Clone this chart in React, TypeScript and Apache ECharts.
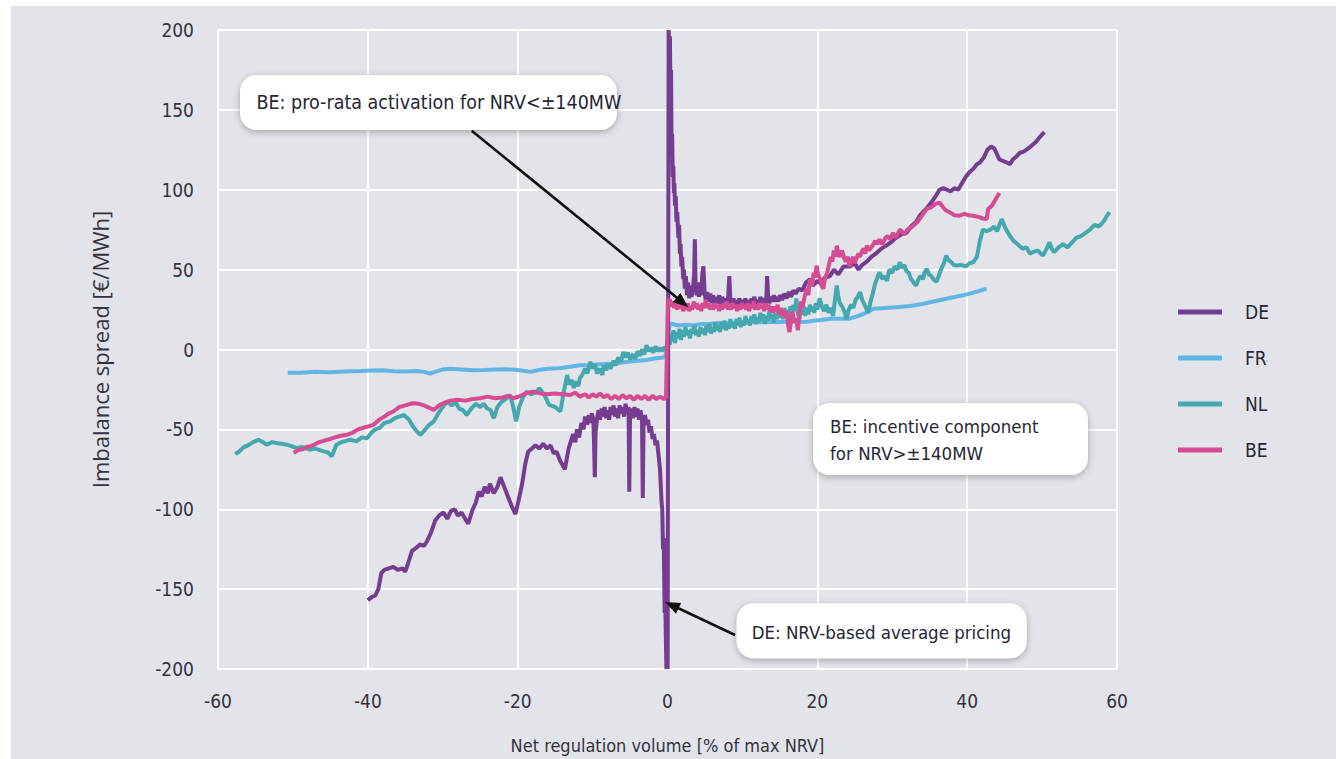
import React, { useEffect, useRef } from "react";
import * as echarts from "echarts";

// ---------- data (x: net regulation volume [% of max NRV], y: imbalance spread [€/MWh]) ----------
const seriesNames = ["DE", "FR", "NL", "BE"];
const xTicks = { min: -60, max: 60, interval: 20 };
const yTicks = { min: -200, max: 200, interval: 50 };

const deData: number[][] = [
  [-40.0, -157], [-39.5, -155], [-39.0, -154], [-38.6, -150], [-38.2, -140], [-37.8, -138], [-37.2, -137],
  [-36.6, -136], [-36.0, -138], [-35.4, -137], [-35.0, -139], [-34.5, -132], [-34.1, -126], [-33.5, -124],
  [-33.0, -122], [-32.5, -123], [-32.1, -120], [-31.6, -115], [-31.0, -107], [-30.5, -104], [-29.9, -102],
  [-29.4, -106], [-28.9, -101], [-28.4, -100], [-28.0, -104], [-27.5, -102], [-27.0, -106], [-26.6, -109],
  [-26.0, -100], [-25.6, -96], [-25.2, -89], [-24.8, -92], [-24.4, -86], [-24.0, -90], [-23.7, -84],
  [-23.2, -90], [-22.7, -86], [-22.3, -80], [-21.8, -86], [-21.3, -92], [-20.8, -98], [-20.3, -103],
  [-19.9, -95], [-19.4, -84], [-19.0, -72], [-18.6, -64], [-18.1, -62], [-17.6, -60], [-17.1, -62],
  [-16.6, -59], [-16.1, -62], [-15.6, -60], [-15.2, -65], [-14.8, -64], [-14.3, -70], [-13.7, -75],
  [-13.2, -62], [-12.6, -53], [-12.3, -58], [-12.1, -50], [-11.8, -55], [-11.5, -46], [-11.2, -50],
  [-11.0, -42], [-10.7, -47], [-10.5, -41], [-10.3, -46], [-10.1, -40], [-9.9, -44], [-9.8, -60],
  [-9.7, -80], [-9.6, -52], [-9.4, -43], [-9.2, -38], [-9.0, -44], [-8.8, -37], [-8.6, -42], [-8.4, -36],
  [-8.2, -43], [-8.0, -38], [-7.8, -44], [-7.6, -36], [-7.4, -41], [-7.2, -35], [-7.0, -42], [-6.8, -37],
  [-6.6, -43], [-6.4, -35], [-6.2, -40], [-6.0, -36], [-5.8, -42], [-5.6, -34], [-5.4, -40], [-5.2, -36],
  [-5.1, -89], [-5.0, -42], [-4.8, -37], [-4.6, -43], [-4.4, -36], [-4.2, -42], [-4.0, -37], [-3.8, -44],
  [-3.6, -38], [-3.4, -45], [-3.3, -93], [-3.2, -48], [-3.0, -41], [-2.8, -47], [-2.6, -44], [-2.4, -52],
  [-2.2, -48], [-2.0, -56], [-1.8, -53], [-1.6, -60], [-1.4, -57], [-1.2, -66], [-1.0, -75], [-0.9, -85],
  [-0.8, -95], [-0.7, -100], [-0.6, -125], [-0.5, -118], [-0.45, -140], [-0.38, -165], [-0.3, -158],
  [-0.22, -180], [-0.15, -200], [-0.08, -190], [0.02, -200], [0.15, 200], [0.25, 190], [0.32, 196],
  [0.4, 160], [0.47, 175], [0.55, 125], [0.62, 135], [0.7, 108], [0.78, 115], [0.85, 98], [0.92, 104],
  [1.0, 90], [1.1, 96], [1.2, 80], [1.3, 86], [1.45, 70], [1.55, 78], [1.65, 60], [1.75, 66], [1.85, 52],
  [1.95, 58], [2.1, 44], [2.2, 50], [2.3, 38], [2.45, 46], [2.6, 34], [2.75, 42], [2.9, 32], [3.05, 40],
  [3.2, 33], [3.4, 38], [3.55, 47], [3.65, 69], [3.75, 40], [3.9, 34], [4.05, 42], [4.2, 33], [4.35, 40],
  [4.5, 34], [4.65, 48], [4.8, 52], [4.95, 36], [5.1, 31], [5.3, 36], [5.5, 30], [5.7, 35], [5.9, 29],
  [6.1, 34], [6.3, 28], [6.5, 33], [6.7, 29], [6.9, 34], [7.1, 28], [7.3, 33], [7.5, 29], [7.7, 32],
  [7.9, 28], [8.1, 33], [8.25, 46], [8.4, 31], [8.6, 27], [8.8, 32], [9.0, 28], [9.2, 31], [9.4, 27],
  [9.6, 32], [9.8, 28], [10.0, 31], [10.2, 27], [10.4, 32], [10.6, 28], [10.8, 31], [11.0, 27], [11.2, 32],
  [11.4, 29], [11.6, 33], [11.8, 28], [12.0, 31], [12.2, 28], [12.4, 33], [12.6, 29], [12.8, 32],
  [13.0, 29], [13.2, 33], [13.3, 46], [13.45, 31], [13.6, 29], [13.8, 33], [14.0, 30], [14.2, 34],
  [14.4, 30], [14.6, 33], [14.8, 30], [15.0, 34], [15.3, 31], [15.6, 35], [15.9, 32], [16.2, 36],
  [16.5, 33], [16.8, 37], [17.1, 35], [17.5, 38], [18.0, 37], [18.5, 42], [19.0, 44], [19.4, 40],
  [20.0, 43], [20.5, 41], [21.0, 45], [21.7, 46], [22.2, 50], [22.8, 47], [23.5, 52], [24.3, 52],
  [25.0, 54], [25.5, 50], [26.0, 53], [26.6, 55], [27.2, 58], [27.8, 60], [28.5, 63], [29.2, 65],
  [29.8, 67], [30.5, 70], [31.2, 72], [31.9, 73], [32.5, 77], [33.2, 80], [33.7, 84], [34.1, 86],
  [34.7, 89], [35.2, 92], [35.8, 96], [36.3, 100], [36.8, 101], [37.3, 100], [37.8, 99], [38.3, 101],
  [38.8, 100], [39.3, 104], [39.8, 108], [40.3, 111], [40.8, 113], [41.3, 116], [41.7, 117], [42.2, 120],
  [42.7, 125], [43.2, 127], [43.6, 126], [43.9, 123], [44.3, 119], [44.8, 118], [45.3, 117], [45.7, 116],
  [46.1, 119], [46.6, 121], [47.0, 123], [47.6, 124], [48.2, 126], [48.7, 128], [49.2, 130], [49.7, 133],
  [50.3, 136],
];

const frData: number[][] = [
  [-50.7, -14.5], [-49.0, -14.5], [-47.0, -14.0], [-45.0, -14.3], [-43.0, -13.8], [-41.0, -13.5],
  [-39.5, -13.2], [-38.0, -13.0], [-36.5, -13.6], [-35.0, -13.8], [-33.5, -13.5], [-32.5, -14.0],
  [-31.7, -15.0], [-31.0, -14.0], [-30.0, -12.5], [-29.0, -12.0], [-27.5, -12.5], [-26.0, -13.0],
  [-24.5, -12.8], [-23.0, -12.5], [-21.5, -12.3], [-20.0, -12.8], [-19.0, -13.5], [-18.3, -14.0],
  [-17.2, -12.8], [-16.0, -12.0], [-14.5, -11.8], [-13.0, -10.8], [-11.7, -9.8], [-10.3, -9.7],
  [-9.0, -9.2], [-7.2, -8.9], [-5.5, -7.8], [-4.0, -7.0], [-2.8, -6.6], [-1.5, -5.5], [-0.3, -4.8],
  [0.3, 16], [0.6, 16], [1.5, 15], [2.5, 15.5], [3.5, 15], [4.5, 16], [5.5, 16], [6.5, 16.5], [7.5, 16.8],
  [8.5, 16.5], [9.5, 17], [10.5, 16.8], [11.5, 17.2], [12.5, 17], [13.5, 17.3], [14.5, 17], [15.5, 17.4],
  [16.5, 17.4], [17.5, 17.2], [18.6, 17.4], [19.5, 18], [20.5, 18.5], [21.7, 19.3], [23.0, 19.2],
  [24.3, 19.3], [25.5, 21], [26.5, 23], [27.5, 25.5], [29.0, 26], [30.5, 26.5], [32.0, 27], [32.8, 27.6],
  [34.0, 28.5], [35.5, 30], [37.2, 31.8], [38.5, 33], [40.0, 34.5], [41.5, 36.5], [42.6, 38],
];

const nlData: number[][] = [
  [-57.7, -65.4], [-57.2, -64], [-56.6, -61.3], [-56.0, -60], [-55.3, -58], [-54.6, -56.5], [-54.0, -58],
  [-53.5, -59.6], [-52.8, -58], [-52.2, -58.5], [-51.5, -59], [-50.8, -59.6], [-50.2, -60.5],
  [-49.5, -61.7], [-48.8, -61], [-48.2, -62], [-47.7, -62.7], [-47.0, -62], [-46.4, -63], [-45.9, -63.8],
  [-45.3, -64.5], [-44.8, -66.9], [-44.4, -62], [-44.2, -59.6], [-43.5, -58], [-42.8, -57], [-42.3, -56.5],
  [-41.5, -57.5], [-40.8, -55], [-40.1, -55.5], [-39.5, -52], [-39.0, -50], [-38.4, -49], [-37.8, -46],
  [-37.0, -45], [-36.4, -43], [-35.8, -42], [-35.2, -41], [-34.5, -44], [-34.0, -48], [-33.5, -51],
  [-33.0, -53.4], [-32.5, -51], [-32.0, -48], [-31.2, -45], [-30.6, -40], [-30.0, -36], [-29.4, -32.6],
  [-28.8, -35], [-28.3, -33], [-27.8, -37], [-27.3, -38], [-26.8, -41], [-26.2, -37], [-25.6, -34],
  [-25.0, -36], [-24.5, -34], [-24.1, -36.8], [-23.6, -38], [-23.2, -43], [-22.7, -36], [-22.2, -33],
  [-21.6, -31], [-21.0, -28.5], [-20.6, -36], [-20.2, -45], [-19.8, -36], [-19.3, -30], [-18.8, -26.4],
  [-18.2, -28], [-17.6, -27], [-17.1, -24.3], [-16.5, -28], [-15.8, -34.7], [-15.0, -36], [-14.3, -38.8],
  [-13.9, -28], [-13.4, -16], [-13.1, -22], [-12.8, -19], [-12.5, -24], [-12.2, -20], [-11.9, -23],
  [-11.7, -18], [-11.4, -16], [-11.0, -12], [-10.7, -15], [-10.3, -7.7], [-10.0, -12], [-9.7, -9],
  [-9.4, -15], [-9.0, -12], [-8.7, -16], [-8.5, -10], [-8.2, -13], [-8.0, -9], [-7.6, -12], [-7.2, -7],
  [-6.9, -10], [-6.6, -5], [-6.2, -8], [-5.9, -1.5], [-5.6, -5], [-5.3, -2], [-5.0, -6], [-4.6, -3],
  [-4.3, -6], [-4.0, -1], [-3.7, -4], [-3.4, 0], [-3.1, -3], [-2.8, 2.7], [-2.5, -1], [-2.2, 1],
  [-1.9, -2], [-1.6, 2], [-1.3, -1], [-1.0, 1], [-0.7, -1], [-0.4, 1.5], [-0.1, 0],
  [0.0, 1], [0.15, 8], [0.3, 3], [0.45, 10], [0.6, 5], [0.8, 12], [1.0, 4], [1.2, 11], [1.4, 7], [1.6, 13],
  [1.8, 6], [2.0, 12], [2.2, 8], [2.4, 14], [2.6, 9], [2.8, 12], [3.0, 7], [3.2, 13], [3.4, 10], [3.6, 15],
  [3.8, 9], [4.0, 12], [4.2, 8], [4.4, 14], [4.6, 10], [4.8, 13], [5.0, 9], [5.2, 15], [5.4, 11], [5.6, 16],
  [5.8, 10], [6.0, 14], [6.2, 11], [6.4, 17], [6.6, 12], [6.8, 15], [7.0, 11], [7.2, 17], [7.4, 13],
  [7.6, 18], [7.8, 12], [8.0, 16], [8.2, 13], [8.4, 19], [8.6, 14], [8.8, 17], [9.0, 13], [9.2, 19],
  [9.4, 15], [9.6, 20], [9.8, 14], [10.0, 18], [10.2, 15], [10.4, 21], [10.6, 16], [10.8, 19], [11.0, 15],
  [11.2, 21], [11.4, 17], [11.6, 22], [11.8, 16], [12.0, 20], [12.2, 17], [12.4, 23], [12.6, 18],
  [12.8, 22], [13.0, 16], [13.2, 21], [13.4, 18], [13.6, 24], [13.8, 19], [14.0, 22], [14.2, 17],
  [14.4, 23], [14.6, 19], [14.8, 25], [15.0, 20], [15.2, 24], [15.4, 19], [15.6, 26], [15.8, 21],
  [16.0, 25], [16.2, 20], [16.4, 27], [16.6, 22], [16.8, 28], [17.0, 24], [17.2, 32], [17.4, 23],
  [17.6, 19], [17.8, 25], [18.0, 22], [18.2, 27], [18.4, 21], [18.6, 26], [18.8, 22], [19.0, 28],
  [19.2, 24], [19.4, 27], [19.6, 23], [19.8, 29], [20.0, 25], [20.3, 32], [20.6, 27], [20.9, 24],
  [21.2, 28], [21.5, 23], [21.8, 26], [22.1, 21], [22.4, 33], [22.6, 40], [22.8, 33], [23.0, 29],
  [23.3, 27], [23.6, 24], [23.9, 19], [24.2, 25], [24.5, 28], [24.8, 26], [25.1, 31], [25.4, 33],
  [25.7, 36], [26.0, 31], [26.3, 28], [26.6, 25], [26.8, 23], [27.1, 30], [27.4, 35], [27.7, 41],
  [28.0, 45], [28.3, 48.4], [28.7, 44], [29.0, 46], [29.3, 43], [29.6, 50], [30.0, 48], [30.3, 52],
  [30.7, 50], [31.0, 54.6], [31.3, 51], [31.6, 53], [31.9, 49], [32.2, 48], [32.5, 44], [32.7, 43],
  [33.0, 41], [33.2, 40], [33.5, 44], [33.8, 46], [34.1, 44], [34.3, 48], [34.6, 50.5], [34.9, 47],
  [35.2, 46], [35.5, 44], [35.9, 42.4], [36.2, 46], [36.5, 50], [36.9, 54], [37.2, 58.8], [37.5, 56],
  [37.8, 55], [38.2, 53], [38.6, 52.5], [39.2, 53], [39.8, 52], [40.3, 54], [40.8, 54.6], [41.3, 58],
  [41.7, 68], [42.1, 75], [42.6, 74], [43.1, 75], [43.6, 77], [44.0, 74], [44.6, 81.6], [45.1, 76],
  [45.7, 71], [46.2, 68], [46.7, 66], [47.4, 63], [47.9, 64], [48.4, 60], [48.8, 61], [49.4, 62],
  [50.1, 58.8], [50.6, 63], [51.0, 67], [51.3, 63], [51.6, 61], [52.2, 64], [52.8, 66], [53.4, 64],
  [54.0, 67], [54.6, 70], [55.2, 71], [55.8, 73], [56.4, 75], [57.0, 78], [57.6, 77], [58.2, 80],
  [58.7, 84], [59.0, 86],
];

const beData: number[][] = [
  [-49.9, -64.8], [-49.3, -63], [-48.7, -62.5], [-48.2, -61], [-47.6, -60.5], [-47.2, -59.6], [-46.5, -58],
  [-45.8, -57], [-45.0, -56], [-44.4, -55], [-43.6, -54], [-42.8, -53.4], [-42.0, -52], [-41.3, -50],
  [-40.6, -49], [-39.8, -48], [-39.2, -47], [-38.5, -44], [-37.8, -42], [-37.2, -40], [-36.6, -38.8],
  [-35.8, -36], [-35.0, -35], [-34.3, -34], [-33.9, -33.6], [-33.2, -34], [-32.5, -35], [-31.8, -36.5],
  [-31.2, -37.8], [-30.5, -35], [-29.9, -33.6], [-29.0, -32], [-28.0, -31.5], [-27.0, -32], [-26.0, -31],
  [-25.0, -30.5], [-24.0, -29.5], [-23.0, -30.5], [-22.0, -30], [-21.3, -29], [-20.6, -30.5], [-19.6, -29],
  [-18.7, -27], [-17.9, -26.4], [-17.0, -27.5], [-16.0, -28], [-15.0, -27.5], [-14.0, -28], [-13.0, -28.5],
  [-12.3, -27], [-11.7, -29.5], [-11.0, -28], [-10.5, -30], [-10.0, -28], [-9.5, -29.5], [-9.0, -27.5],
  [-8.5, -30], [-8.0, -28.5], [-7.5, -31], [-7.0, -29], [-6.5, -31], [-6.0, -28.5], [-5.5, -30.5],
  [-5.0, -29], [-4.5, -31.5], [-4.0, -29], [-3.5, -31], [-3.0, -29], [-2.5, -31.5], [-2.0, -29],
  [-1.5, -31], [-1.0, -29.5], [-0.5, -31], [-0.2, -30], [0.05, 30], [0.3, 31.5], [0.5, 27], [0.7, 30],
  [0.9, 26], [1.1, 29], [1.3, 25], [1.5, 30], [1.7, 26], [1.9, 28], [2.1, 24], [2.3, 27], [2.5, 25],
  [2.7, 29], [2.9, 24], [3.1, 27], [3.3, 25], [3.5, 30], [3.7, 26], [3.9, 29], [4.1, 25], [4.3, 28],
  [4.5, 24], [4.7, 29], [4.9, 26], [5.1, 31], [5.3, 26], [5.5, 29], [5.7, 25], [5.9, 28], [6.1, 25],
  [6.3, 29], [6.5, 26], [6.7, 28], [6.9, 24], [7.1, 28], [7.3, 25], [7.5, 29], [7.7, 26], [7.9, 30],
  [8.1, 25], [8.3, 28], [8.5, 25], [8.7, 29], [8.9, 26], [9.1, 28], [9.3, 24], [9.5, 28], [9.7, 25],
  [9.9, 29], [10.1, 26], [10.3, 28], [10.5, 25], [10.7, 29], [10.9, 24], [11.1, 28], [11.3, 26],
  [11.5, 30], [11.7, 25], [11.9, 28], [12.1, 25], [12.3, 29], [12.5, 26], [12.7, 28], [12.9, 24],
  [13.1, 29], [13.3, 25], [13.5, 28], [13.7, 24], [13.9, 27], [14.1, 23], [14.3, 27], [14.5, 24],
  [14.7, 28], [14.9, 22], [15.1, 26], [15.3, 21], [15.5, 25], [15.7, 20], [15.9, 24], [16.1, 15],
  [16.3, 11], [16.5, 20], [16.7, 24], [16.9, 17], [17.2, 19.3], [17.4, 12], [17.6, 22], [17.8, 30],
  [18.0, 26], [18.3, 33], [18.6, 38], [18.8, 34], [19.0, 44], [19.3, 40], [19.5, 48], [19.7, 45],
  [19.9, 52.5], [20.1, 47], [20.3, 45], [20.6, 40], [20.8, 38], [21.0, 44], [21.3, 48], [21.5, 52],
  [21.8, 58], [22.0, 55], [22.2, 62], [22.4, 58], [22.6, 65], [22.8, 60], [23.0, 58], [23.3, 62],
  [23.6, 57], [23.8, 55], [24.1, 58], [24.3, 52], [24.6, 56], [24.8, 58], [25.0, 54], [25.2, 56.7],
  [25.5, 60], [25.7, 58], [26.0, 62], [26.2, 63], [26.4, 60], [26.6, 65], [26.9, 62], [27.2, 64],
  [27.5, 66], [27.7, 68], [28.0, 66], [28.3, 69], [28.6, 66], [28.8, 67], [29.1, 70], [29.4, 71],
  [29.7, 69], [30.1, 73], [30.4, 70], [30.7, 72], [31.0, 75], [31.3, 74], [31.6, 72], [32.0, 75],
  [32.4, 76], [32.8, 77.5], [33.4, 80], [34.0, 84], [34.6, 88], [35.2, 89], [35.7, 91], [36.3, 92],
  [36.8, 89], [37.2, 87], [37.7, 85.8], [38.3, 84], [39.0, 83.7], [39.6, 85], [40.2, 84], [40.8, 83.7],
  [41.5, 83], [42.1, 82], [42.6, 81.6], [42.8, 88], [43.3, 90], [43.8, 94], [44.3, 98],
];

// annotation texts and their arrow targets (in data coordinates)
const annoProRata = "BE: pro-rata activation for NRV<±140MW";
const annoIncentive = "BE: incentive component\nfor NRV>±140MW";
const annoDE = "DE: NRV-based average pricing";
const arrowTipBE = [2.77, 26.6];
const arrowTipDE = [-0.33, -158];

const colors: Record<string, string> = {
  DE: "#763c8f",
  FR: "#62b6e6",
  NL: "#44a8ae",
  BE: "#d64b91",
};

const NARROW = "'Liberation Sans Narrow', 'DejaVu Sans Condensed', 'Open Sans', sans-serif";
const WIDE = "'Open Sans', 'Noto Sans', sans-serif";
const BG = "#e3e4e9";

function box(x: number, y: number, w: number, h: number, text: string, tx: number, ty: number, size: number) {
  return {
    type: "group",
    children: [
      {
        type: "rect",
        shape: { x, y, width: w, height: h, r: 17 },
        style: {
          fill: "#ffffff",
          shadowBlur: 7,
          shadowColor: "rgba(0,0,0,0.28)",
          shadowOffsetX: 0,
          shadowOffsetY: 2,
        },
        z: 100,
      },
      {
        type: "text",
        x: tx,
        y: ty,
        style: {
          text,
          fill: "#262633",
          font: `${size}px ${NARROW}`,
          lineHeight: 27,
          verticalAlign: "middle",
          align: "left",
        },
        z: 101,
      },
    ],
  };
}

function arrow(tail: number[], tip: number[]) {
  const dx = tip[0] - tail[0];
  const dy = tip[1] - tail[1];
  const len = Math.sqrt(dx * dx + dy * dy);
  const ux = dx / len;
  const uy = dy / len;
  const px = -uy;
  const py = ux;
  const L = 15;
  const W = 6;
  const bx = tip[0] - ux * L;
  const by = tip[1] - uy * L;
  return {
    type: "group",
    children: [
      {
        type: "line",
        shape: { x1: tail[0], y1: tail[1], x2: tip[0] - ux * (L - 2), y2: tip[1] - uy * (L - 2) },
        style: { stroke: "#111111", lineWidth: 2.6 },
        z: 99,
      },
      {
        type: "polygon",
        shape: {
          points: [
            [tip[0], tip[1]],
            [bx + px * W, by + py * W],
            [bx - px * W, by - py * W],
          ],
        },
        style: { fill: "#111111" },
        z: 99,
      },
    ],
  };
}

export default function App() {
  const ref = useRef<HTMLDivElement>(null);

  useEffect(() => {
    if (!ref.current) return;
    const chart = echarts.init(ref.current, undefined, { renderer: "svg" });

    const dataMap: Record<string, number[][]> = { DE: deData, FR: frData, NL: nlData, BE: beData };
    const drawOrder = ["FR", "NL", "DE", "BE"];

    const axisCommon = {
      type: "value",
      axisLine: { show: true, lineStyle: { color: "#ffffff", width: 2 } },
      axisTick: { show: true, lineStyle: { color: "#ffffff", width: 2 } },
      splitLine: { show: true, lineStyle: { color: "#ffffff", width: 2 } },
    };

    chart.setOption({
      animation: false,
      backgroundColor: BG,
      grid: { left: 207, right: 219, top: 24, bottom: 87, containLabel: false },
      legend: {
        data: seriesNames,
        orient: "vertical",
        left: 1162,
        top: 291,
        icon: "rect",
        itemWidth: 44,
        itemHeight: 5,
        itemGap: 26,
        textStyle: {
          color: "#262633",
          fontSize: 19,
          fontFamily: NARROW,
          lineHeight: 20,
          padding: [0, 0, 0, 18],
        },
      },
      xAxis: {
        ...axisCommon,
        min: xTicks.min,
        max: xTicks.max,
        interval: xTicks.interval,
        axisTick: { ...axisCommon.axisTick, length: 9 },
        axisLabel: { color: "#333340", fontSize: 19, fontFamily: NARROW, margin: 22 },
        name: "Net regulation volume [% of max NRV]",
        nameLocation: "middle",
        nameGap: 67,
        nameTextStyle: { color: "#333340", fontSize: 18, fontFamily: NARROW },
      },
      yAxis: {
        ...axisCommon,
        min: yTicks.min,
        max: yTicks.max,
        interval: yTicks.interval,
        axisTick: { ...axisCommon.axisTick, length: 7 },
        axisLabel: { color: "#333340", fontSize: 19, fontFamily: NARROW, margin: 24 },
        name: "Imbalance spread [€/MWh]",
        nameLocation: "middle",
        nameGap: 107,
        nameTextStyle: { color: "#333340", fontSize: 22, fontFamily: WIDE },
      },
      series: drawOrder.map((n) => ({
        name: n,
        type: "line",
        data: dataMap[n],
        showSymbol: false,
        symbol: "none",
        color: colors[n],
        lineStyle: { color: colors[n], width: 4 },
        emphasis: { disabled: true },
      })),
    });

    const tipBE = chart.convertToPixel({ gridIndex: 0 }, arrowTipBE) as number[];
    const tipDE = chart.convertToPixel({ gridIndex: 0 }, arrowTipDE) as number[];

    chart.setOption({
      graphic: [
        arrow([460.7, 124.7], tipBE),
        arrow([724, 629], tipDE),
        box(229, 69, 377, 55, annoProRata, 245.5, 96.5, 19.5),
        box(802, 397, 275, 72, annoIncentive, 819, 434, 18.5),
        box(725.7, 597.3, 290, 55, annoDE, 740.7, 626.7, 18.5),
      ],
    });

    return () => chart.dispose();
  }, []);

  return (
    <div style={{ position: "absolute", left: 0, top: 0, width: 1336, height: 759, background: "#ffffff" }}>
      <div ref={ref} style={{ position: "absolute", left: 11, top: 6, width: 1325, height: 753 }} />
    </div>
  );
}
